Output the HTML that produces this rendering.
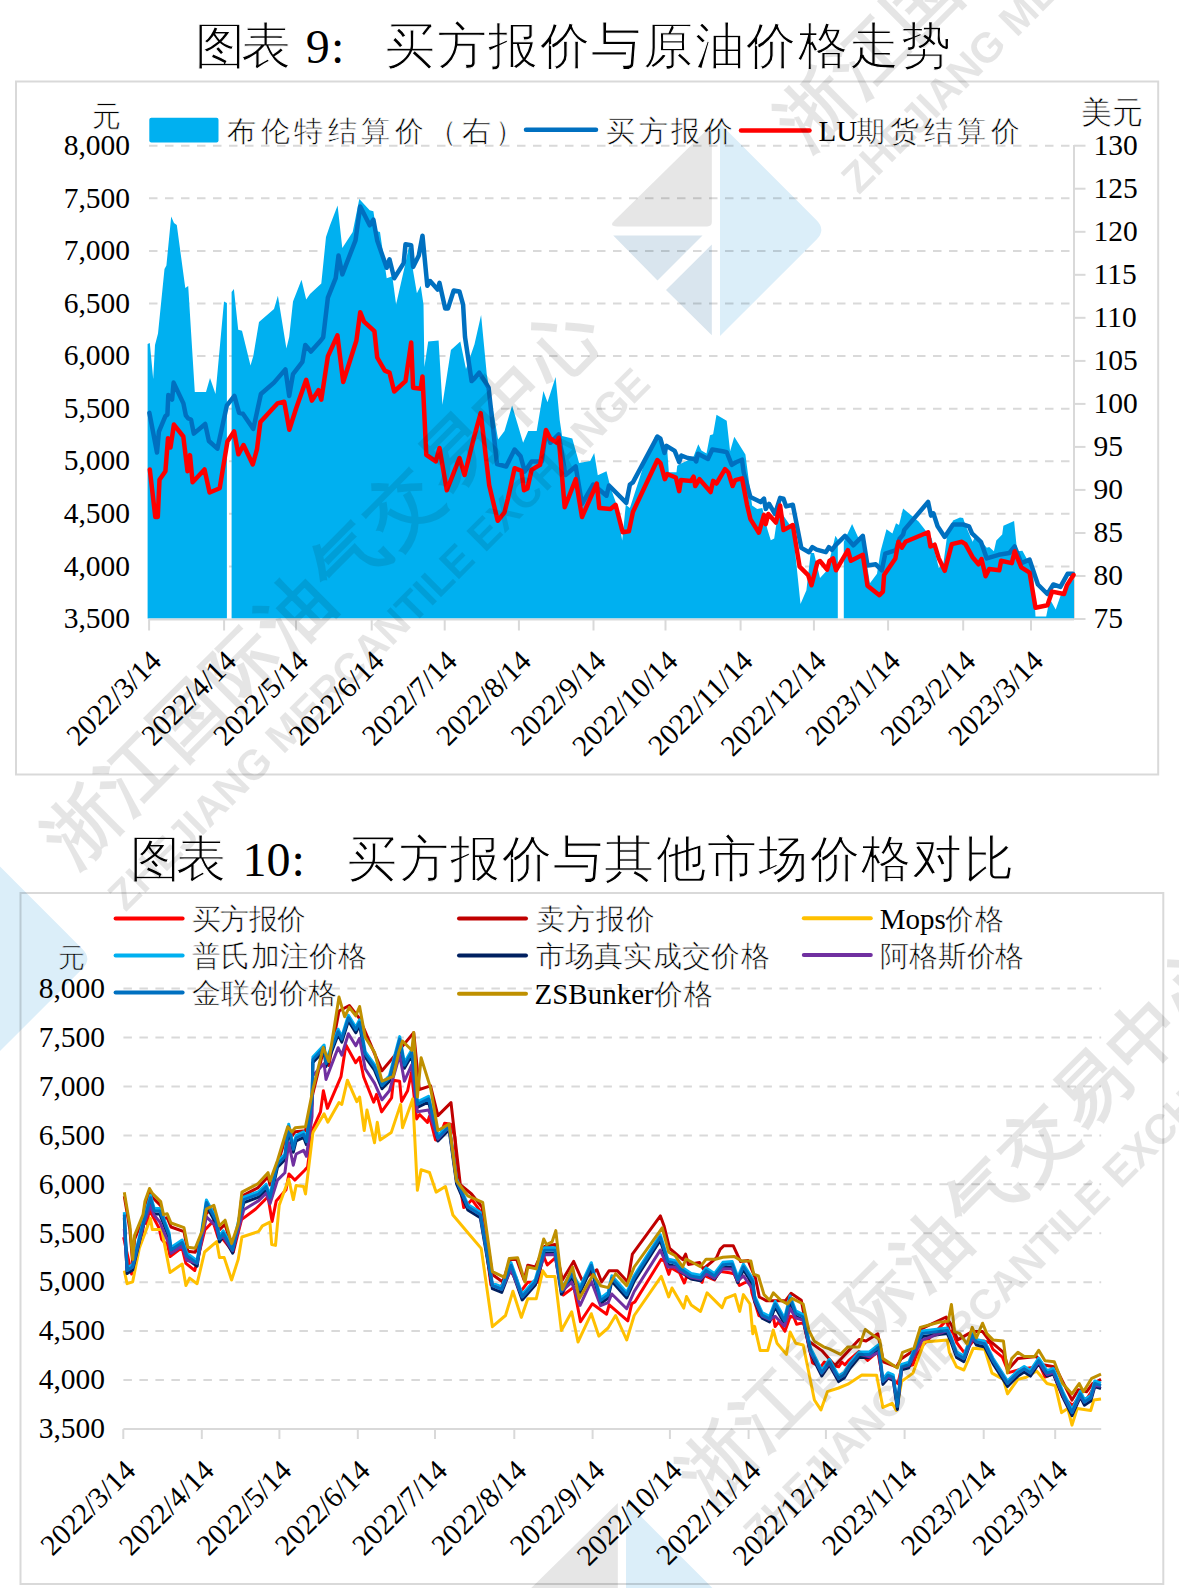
<!DOCTYPE html><html><head><meta charset="utf-8"><style>html,body{margin:0;padding:0;background:#fff;width:1179px;height:1588px;overflow:hidden;position:relative}</style></head><body>
<svg width="1179" height="1588" viewBox="0 0 1179 1588" style="position:absolute;left:0;top:0">
<rect x="16" y="81.5" width="1142.2" height="693" fill="none" stroke="#d9d9d9" stroke-width="2"/>
<rect x="20.5" y="893" width="1142.8" height="691" fill="none" stroke="#d9d9d9" stroke-width="2"/>
<text x="195" y="63" font-family='"Liberation Serif", serif' font-size="50" stroke="#fff" stroke-width="1.1">图</text>
<text x="240.8" y="63" font-family='"Liberation Serif", serif' font-size="50" stroke="#fff" stroke-width="1.1">表</text>
<text x="305.7" y="63" font-family='"Liberation Serif", serif' font-size="48">9</text>
<text x="330.9" y="63" font-family='"Liberation Serif", serif' font-size="48">:</text>
<text x="385.0" y="63" font-family='"Liberation Serif", serif' font-size="50" stroke="#fff" stroke-width="1.1">买</text>
<text x="436.6" y="63" font-family='"Liberation Serif", serif' font-size="50" stroke="#fff" stroke-width="1.1">方</text>
<text x="488.2" y="63" font-family='"Liberation Serif", serif' font-size="50" stroke="#fff" stroke-width="1.1">报</text>
<text x="539.8" y="63" font-family='"Liberation Serif", serif' font-size="50" stroke="#fff" stroke-width="1.1">价</text>
<text x="591.4" y="63" font-family='"Liberation Serif", serif' font-size="50" stroke="#fff" stroke-width="1.1">与</text>
<text x="643.0" y="63" font-family='"Liberation Serif", serif' font-size="50" stroke="#fff" stroke-width="1.1">原</text>
<text x="694.6" y="63" font-family='"Liberation Serif", serif' font-size="50" stroke="#fff" stroke-width="1.1">油</text>
<text x="746.2" y="63" font-family='"Liberation Serif", serif' font-size="50" stroke="#fff" stroke-width="1.1">价</text>
<text x="797.8" y="63" font-family='"Liberation Serif", serif' font-size="50" stroke="#fff" stroke-width="1.1">格</text>
<text x="849.4" y="63" font-family='"Liberation Serif", serif' font-size="50" stroke="#fff" stroke-width="1.1">走</text>
<text x="901.0" y="63" font-family='"Liberation Serif", serif' font-size="50" stroke="#fff" stroke-width="1.1">势</text>
<text x="130.3" y="876" font-family='"Liberation Serif", serif' font-size="50" stroke="#fff" stroke-width="1.1">图</text>
<text x="176.10000000000002" y="876" font-family='"Liberation Serif", serif' font-size="50" stroke="#fff" stroke-width="1.1">表</text>
<text x="242.5" y="876" font-family='"Liberation Serif", serif' font-size="48">10</text>
<text x="291.5" y="876" font-family='"Liberation Serif", serif' font-size="48">:</text>
<text x="347.4" y="876" font-family='"Liberation Serif", serif' font-size="50" stroke="#fff" stroke-width="1.1">买</text>
<text x="398.8" y="876" font-family='"Liberation Serif", serif' font-size="50" stroke="#fff" stroke-width="1.1">方</text>
<text x="450.1" y="876" font-family='"Liberation Serif", serif' font-size="50" stroke="#fff" stroke-width="1.1">报</text>
<text x="501.5" y="876" font-family='"Liberation Serif", serif' font-size="50" stroke="#fff" stroke-width="1.1">价</text>
<text x="552.8" y="876" font-family='"Liberation Serif", serif' font-size="50" stroke="#fff" stroke-width="1.1">与</text>
<text x="604.2" y="876" font-family='"Liberation Serif", serif' font-size="50" stroke="#fff" stroke-width="1.1">其</text>
<text x="655.6" y="876" font-family='"Liberation Serif", serif' font-size="50" stroke="#fff" stroke-width="1.1">他</text>
<text x="706.9" y="876" font-family='"Liberation Serif", serif' font-size="50" stroke="#fff" stroke-width="1.1">市</text>
<text x="758.3" y="876" font-family='"Liberation Serif", serif' font-size="50" stroke="#fff" stroke-width="1.1">场</text>
<text x="809.6" y="876" font-family='"Liberation Serif", serif' font-size="50" stroke="#fff" stroke-width="1.1">价</text>
<text x="861.0" y="876" font-family='"Liberation Serif", serif' font-size="50" stroke="#fff" stroke-width="1.1">格</text>
<text x="912.4" y="876" font-family='"Liberation Serif", serif' font-size="50" stroke="#fff" stroke-width="1.1">对</text>
<text x="963.7" y="876" font-family='"Liberation Serif", serif' font-size="50" stroke="#fff" stroke-width="1.1">比</text>
<line x1="149" y1="145.7" x2="1074" y2="145.7" stroke="#d9d9d9" stroke-width="2" stroke-dasharray="8.5 7.5"/>
<line x1="149" y1="198.3" x2="1074" y2="198.3" stroke="#d9d9d9" stroke-width="2" stroke-dasharray="8.5 7.5"/>
<line x1="149" y1="250.9" x2="1074" y2="250.9" stroke="#d9d9d9" stroke-width="2" stroke-dasharray="8.5 7.5"/>
<line x1="149" y1="303.5" x2="1074" y2="303.5" stroke="#d9d9d9" stroke-width="2" stroke-dasharray="8.5 7.5"/>
<line x1="149" y1="356.1" x2="1074" y2="356.1" stroke="#d9d9d9" stroke-width="2" stroke-dasharray="8.5 7.5"/>
<line x1="149" y1="408.7" x2="1074" y2="408.7" stroke="#d9d9d9" stroke-width="2" stroke-dasharray="8.5 7.5"/>
<line x1="149" y1="461.2" x2="1074" y2="461.2" stroke="#d9d9d9" stroke-width="2" stroke-dasharray="8.5 7.5"/>
<line x1="149" y1="513.8" x2="1074" y2="513.8" stroke="#d9d9d9" stroke-width="2" stroke-dasharray="8.5 7.5"/>
<line x1="149" y1="566.4" x2="1074" y2="566.4" stroke="#d9d9d9" stroke-width="2" stroke-dasharray="8.5 7.5"/>
<text x="130" y="154.9" font-family='"Liberation Serif", serif' font-size="29.5" text-anchor="end">8,000</text>
<text x="130" y="207.5" font-family='"Liberation Serif", serif' font-size="29.5" text-anchor="end">7,500</text>
<text x="130" y="260.1" font-family='"Liberation Serif", serif' font-size="29.5" text-anchor="end">7,000</text>
<text x="130" y="312.7" font-family='"Liberation Serif", serif' font-size="29.5" text-anchor="end">6,500</text>
<text x="130" y="365.3" font-family='"Liberation Serif", serif' font-size="29.5" text-anchor="end">6,000</text>
<text x="130" y="417.9" font-family='"Liberation Serif", serif' font-size="29.5" text-anchor="end">5,500</text>
<text x="130" y="470.4" font-family='"Liberation Serif", serif' font-size="29.5" text-anchor="end">5,000</text>
<text x="130" y="523.0" font-family='"Liberation Serif", serif' font-size="29.5" text-anchor="end">4,500</text>
<text x="130" y="575.6" font-family='"Liberation Serif", serif' font-size="29.5" text-anchor="end">4,000</text>
<text x="130" y="628.2" font-family='"Liberation Serif", serif' font-size="29.5" text-anchor="end">3,500</text>
<text x="1093.5" y="154.9" font-family='"Liberation Serif", serif' font-size="29.5">130</text>
<line x1="1074" y1="145.7" x2="1085.5" y2="145.7" stroke="#d9d9d9" stroke-width="2"/>
<text x="1093.5" y="197.9" font-family='"Liberation Serif", serif' font-size="29.5">125</text>
<line x1="1074" y1="188.7" x2="1085.5" y2="188.7" stroke="#d9d9d9" stroke-width="2"/>
<text x="1093.5" y="241.0" font-family='"Liberation Serif", serif' font-size="29.5">120</text>
<line x1="1074" y1="231.8" x2="1085.5" y2="231.8" stroke="#d9d9d9" stroke-width="2"/>
<text x="1093.5" y="284.0" font-family='"Liberation Serif", serif' font-size="29.5">115</text>
<line x1="1074" y1="274.8" x2="1085.5" y2="274.8" stroke="#d9d9d9" stroke-width="2"/>
<text x="1093.5" y="327.0" font-family='"Liberation Serif", serif' font-size="29.5">110</text>
<line x1="1074" y1="317.8" x2="1085.5" y2="317.8" stroke="#d9d9d9" stroke-width="2"/>
<text x="1093.5" y="370.1" font-family='"Liberation Serif", serif' font-size="29.5">105</text>
<line x1="1074" y1="360.9" x2="1085.5" y2="360.9" stroke="#d9d9d9" stroke-width="2"/>
<text x="1093.5" y="413.1" font-family='"Liberation Serif", serif' font-size="29.5">100</text>
<line x1="1074" y1="403.9" x2="1085.5" y2="403.9" stroke="#d9d9d9" stroke-width="2"/>
<text x="1093.5" y="456.1" font-family='"Liberation Serif", serif' font-size="29.5">95</text>
<line x1="1074" y1="446.9" x2="1085.5" y2="446.9" stroke="#d9d9d9" stroke-width="2"/>
<text x="1093.5" y="499.1" font-family='"Liberation Serif", serif' font-size="29.5">90</text>
<line x1="1074" y1="489.9" x2="1085.5" y2="489.9" stroke="#d9d9d9" stroke-width="2"/>
<text x="1093.5" y="542.2" font-family='"Liberation Serif", serif' font-size="29.5">85</text>
<line x1="1074" y1="533.0" x2="1085.5" y2="533.0" stroke="#d9d9d9" stroke-width="2"/>
<text x="1093.5" y="585.2" font-family='"Liberation Serif", serif' font-size="29.5">80</text>
<line x1="1074" y1="576.0" x2="1085.5" y2="576.0" stroke="#d9d9d9" stroke-width="2"/>
<text x="1093.5" y="628.2" font-family='"Liberation Serif", serif' font-size="29.5">75</text>
<line x1="1074" y1="619.0" x2="1085.5" y2="619.0" stroke="#d9d9d9" stroke-width="2"/>
<line x1="1074" y1="145" x2="1074" y2="620" stroke="#d9d9d9" stroke-width="2"/>
<text x="106" y="126" font-family='"Liberation Serif", serif' font-size="29" stroke="#fff" stroke-width="0.6" text-anchor="middle">元</text>
<text x="1111.5" y="123" font-family='"Liberation Serif", serif' font-size="31" stroke="#fff" stroke-width="0.6" text-anchor="middle">美元</text>
<rect x="149.3" y="117.8" width="69.2" height="24.6" rx="2" fill="#00b0f0"/>
<text x="227" y="141" font-family='"Liberation Serif", serif' font-size="29" stroke="#fff" stroke-width="0.6" textLength="297" lengthAdjust="spacing">布伦特结算价（右）</text>
<line x1="526" y1="129.7" x2="596" y2="129.7" stroke="#0070c0" stroke-width="4.5" stroke-linecap="round"/>
<text x="606" y="141" font-family='"Liberation Serif", serif' font-size="29" stroke="#fff" stroke-width="0.6" textLength="127" lengthAdjust="spacing">买方报价</text>
<line x1="741" y1="130.4" x2="809.5" y2="130.4" stroke="#ff0000" stroke-width="4.5" stroke-linecap="round"/>
<text x="818.5" y="141" font-family='"Liberation Serif", serif' font-size="29">LU</text>
<text x="856" y="141" font-family='"Liberation Serif", serif' font-size="29" stroke="#fff" stroke-width="0.6" textLength="164" lengthAdjust="spacing">期货结算价</text>
<polygon points="147.6,618.5 147.6,344.0 149.8,343.0 153.2,379.0 155.0,345.0 158.0,333.5 164.5,269.0 166.4,265.5 171.2,216.4 174.0,223.0 176.8,225.0 185.3,288.0 188.2,286.0 194.8,392.0 206.0,392.0 210.0,378.0 215.5,394.0 224.0,301.4 226.9,303.0 226.9,618.5" fill="#00b0f0"/>
<polygon points="231.6,618.5 231.6,292.0 233.9,289.0 238.2,329.8 242.0,330.7 250.5,365.6 253.3,356.0 259.0,322.0 274.0,309.0 277.9,295.8 286.4,348.6 289.2,337.0 293.0,301.4 301.5,279.7 306.2,299.5 310.0,293.9 321.3,283.5 326.0,237.0 330.0,225.3 337.6,205.5 342.3,248.0 352.7,232.0 359.3,198.9 369.7,210.2 373.4,211.2 376.3,231.0 380.0,232.0 386.7,278.2 392.3,276.3 396.1,304.6 405.5,263.1 409.3,244.2 413.1,270.7 416.9,293.3 420.7,285.8 423.5,304.6 424.4,367.0 428.2,341.5 438.6,340.5 442.4,404.7 450.9,350.0 460.3,341.5 466.0,368.9 474.5,344.3 481.1,315.0 486.8,374.5 498.1,439.5 504.5,430.9 512.1,405.4 523.1,442.8 528.2,430.9 536.7,430.9 543.4,391.1 547.5,402.3 555.6,376.9 559.7,420.0 562.1,436.0 572.3,438.5 579.1,463.1 590.2,461.0 594.2,452.9 597.8,475.3 606.5,471.2 610.5,487.5 615.6,501.8 622.2,540.5 625.8,504.8 629.9,507.9 645.1,461.0 655.3,435.6 660.4,437.7 667.3,450.4 668.8,472.3 676.5,472.3 677.2,465.7 680.5,463.7 693.0,458.0 698.3,444.3 701.4,450.4 706.5,453.5 710.0,435.2 713.1,434.3 716.5,414.8 726.7,420.7 730.1,451.2 734.3,436.8 745.4,454.6 752.1,505.5 757.2,508.9 762.3,508.1 767.4,529.3 770.8,540.3 774.2,538.6 779.3,503.8 783.5,515.7 792.8,529.3 800.5,603.9 806.4,590.3 810.7,553.0 814.0,553.0 820.0,578.0 827.1,570.3 835.4,535.8 837.8,539.4 837.8,618.5" fill="#00b0f0"/>
<polygon points="843.8,618.5 843.8,541.8 852.1,523.9 858.0,537.0 862.8,540.0 867.5,567.9 869.9,583.3 877.0,573.8 880.6,551.3 886.5,529.3 892.4,533.4 896.0,523.3 899.0,525.1 903.1,508.5 918.6,521.6 931.6,538.2 938.8,567.9 943.5,563.1 947.1,535.8 953.0,520.4 960.0,517.4 963.1,518.0 965.4,525.1 972.6,541.8 976.0,535.0 986.8,547.7 989.2,547.1 993.9,551.3 996.3,540.6 1002.2,534.6 1003.4,525.7 1014.1,521.0 1017.1,551.3 1022.4,550.7 1033.1,570.3 1035.5,616.6 1046.2,616.6 1049.7,598.8 1055.7,609.4 1061.6,592.8 1072.9,579.8 1074.0,579.0 1074.0,618.5" fill="#00b0f0"/>
<polyline points="149.4,412.9 157.0,452.5 158.9,431.7 165.4,416.1 167.4,414.7 168.3,395.0 172.1,399.6 173.6,382.6 183.4,403.4 185.8,415.3 188.2,418.5 191.0,419.5 193.8,433.6 205.2,424.0 208.9,441.0 217.4,448.7 226.9,405.3 234.4,395.9 239.1,412.9 242.9,413.8 253.3,428.9 260.9,394.0 274.0,382.6 285.4,369.4 289.2,395.9 293.0,374.1 302.4,361.9 305.3,344.9 310.9,351.5 320.4,341.0 323.2,337.3 327.9,297.6 335.7,278.2 338.5,255.5 342.3,274.4 355.5,240.4 360.2,206.4 369.7,225.3 373.4,219.7 377.2,240.4 386.7,267.8 389.5,259.3 394.2,278.2 403.7,263.1 405.5,244.2 411.2,245.2 413.1,266.9 418.8,255.5 422.5,235.7 427.3,285.8 430.1,281.0 437.6,289.5 439.5,282.9 445.2,308.4 448.0,308.4 453.7,290.5 459.4,291.4 463.1,304.6 465.0,336.8 471.6,381.1 474.5,378.3 479.2,372.6 484.0,380.0 488.6,387.7 497.0,464.0 506.2,466.5 514.6,449.5 520.6,456.3 524.8,471.6 531.6,461.4 541.8,461.4 546.0,430.9 550.3,442.8 558.7,434.3 565.5,475.0 575.7,466.5 582.0,503.8 593.2,484.5 606.5,495.7 609.0,485.5 626.3,502.8 629.9,484.5 632.9,482.4 657.4,436.6 660.4,438.7 664.5,452.9 666.5,445.8 674.7,450.9 679.2,462.1 681.3,455.5 687.7,458.0 694.5,458.9 696.2,461.4 697.9,453.8 708.0,458.9 712.3,449.5 722.5,451.2 726.7,452.1 731.8,464.8 736.0,462.3 742.0,459.7 743.7,472.5 750.4,497.0 760.6,502.1 764.0,498.7 765.7,508.9 769.1,503.8 775.0,514.0 780.1,497.9 783.5,498.7 786.1,506.4 792.8,504.7 801.3,547.9 809.0,552.2 812.4,547.1 816.6,549.6 825.9,552.2 828.9,547.1 831.9,550.0 835.4,545.3 845.0,535.8 853.3,545.3 862.8,535.8 867.5,565.5 875.8,564.3 881.8,570.3 885.3,553.6 896.0,550.1 899.6,538.8 903.1,534.6 904.3,529.9 928.1,502.0 931.0,515.6 933.4,513.3 937.6,526.3 944.7,537.0 953.0,524.5 963.1,524.5 969.0,526.3 972.0,533.4 980.9,541.8 986.8,558.4 998.7,554.8 1009.4,553.0 1014.7,546.5 1021.3,563.1 1029.6,559.6 1037.9,584.5 1047.4,594.0 1053.3,584.5 1060.4,586.9 1067.6,573.8 1072.9,573.8" fill="none" stroke="#0070c0" stroke-width="4.5" stroke-linejoin="round" stroke-linecap="round"/>
<polyline points="149.8,469.5 155.3,517.0 157.8,517.0 159.5,479.7 165.4,471.2 168.0,438.2 170.5,447.5 173.9,424.6 183.3,436.5 187.5,471.2 190.0,455.1 192.6,482.3 204.5,469.5 209.6,492.5 219.7,488.2 227.4,441.6 234.1,431.4 238.4,454.3 243.5,445.0 252.8,464.5 257.0,449.2 260.4,422.0 277.4,403.4 284.2,401.7 289.3,429.7 296.1,408.5 306.2,379.8 311.9,400.6 318.5,390.2 321.3,399.6 327.9,356.2 337.4,335.4 343.2,382.0 356.4,340.5 360.2,312.2 364.0,321.6 374.4,331.1 377.2,357.5 384.8,370.7 389.5,372.6 394.2,391.5 405.5,381.1 411.2,342.4 413.1,387.7 420.7,388.7 422.5,376.4 426.3,454.8 435.8,461.4 439.5,448.0 446.8,490.3 459.5,458.0 464.6,475.0 473.9,437.7 480.7,413.1 489.2,485.2 497.7,520.8 504.5,512.3 507.9,498.7 514.6,468.2 521.4,470.8 524.0,490.3 527.4,488.6 531.6,469.9 540.1,464.8 546.0,430.0 550.3,438.5 557.0,442.8 558.7,437.7 564.7,507.2 575.7,479.2 582.0,517.0 596.8,483.5 599.3,507.9 610.5,508.9 615.6,504.8 622.7,532.3 628.9,531.3 632.9,512.0 657.4,460.0 660.5,463.1 664.8,479.2 667.3,474.1 675.8,477.5 679.2,491.1 680.9,480.1 691.1,480.9 693.6,476.7 695.3,486.0 699.5,479.2 710.6,492.0 713.1,480.9 716.5,483.5 725.0,469.1 728.4,472.5 732.6,486.0 735.2,480.1 742.0,478.4 747.0,504.7 750.4,519.1 758.9,532.7 764.0,514.9 765.7,524.2 768.3,514.0 775.9,522.5 780.1,505.5 783.5,530.1 792.8,525.0 799.6,566.6 808.1,575.1 811.5,585.3 817.4,562.4 820.0,561.0 827.1,569.7 829.5,560.8 833.1,558.4 836.0,570.3 847.9,550.1 850.9,560.8 862.8,554.8 867.5,585.7 879.4,595.2 882.9,591.6 884.1,575.0 895.4,558.4 898.4,541.8 901.9,547.7 905.5,541.8 928.1,532.3 930.4,546.5 934.6,544.7 938.8,558.4 944.7,570.8 951.8,544.1 961.9,541.8 965.4,544.1 972.6,557.2 978.5,564.3 981.5,559.0 985.6,576.2 989.2,569.1 999.3,570.3 1001.1,560.8 1011.8,563.1 1014.7,551.3 1021.3,567.3 1029.6,572.6 1035.5,607.7 1047.4,605.3 1052.1,591.6 1064.0,594.0 1067.0,585.1 1073.5,575.0" fill="none" stroke="#ff0000" stroke-width="4.5" stroke-linejoin="round" stroke-linecap="round"/>
<line x1="148.5" y1="619.5" x2="1074" y2="619.5" stroke="#d9d9d9" stroke-width="2"/>
<line x1="149.1" y1="619.5" x2="149.1" y2="630.5" stroke="#d9d9d9" stroke-width="2"/>
<text transform="translate(163.0,662.7) rotate(-45)" font-family='"Liberation Serif", serif' font-size="29.5" text-anchor="end">2022/3/14</text>
<line x1="224.1" y1="619.5" x2="224.1" y2="630.5" stroke="#d9d9d9" stroke-width="2"/>
<text transform="translate(238.0,662.7) rotate(-45)" font-family='"Liberation Serif", serif' font-size="29.5" text-anchor="end">2022/4/14</text>
<line x1="296" y1="619.5" x2="296" y2="630.5" stroke="#d9d9d9" stroke-width="2"/>
<text transform="translate(309.9,662.7) rotate(-45)" font-family='"Liberation Serif", serif' font-size="29.5" text-anchor="end">2022/5/14</text>
<line x1="371.7" y1="619.5" x2="371.7" y2="630.5" stroke="#d9d9d9" stroke-width="2"/>
<text transform="translate(385.6,662.7) rotate(-45)" font-family='"Liberation Serif", serif' font-size="29.5" text-anchor="end">2022/6/14</text>
<line x1="444.7" y1="619.5" x2="444.7" y2="630.5" stroke="#d9d9d9" stroke-width="2"/>
<text transform="translate(458.6,662.7) rotate(-45)" font-family='"Liberation Serif", serif' font-size="29.5" text-anchor="end">2022/7/14</text>
<line x1="518.9" y1="619.5" x2="518.9" y2="630.5" stroke="#d9d9d9" stroke-width="2"/>
<text transform="translate(532.8,662.7) rotate(-45)" font-family='"Liberation Serif", serif' font-size="29.5" text-anchor="end">2022/8/14</text>
<line x1="593.5" y1="619.5" x2="593.5" y2="630.5" stroke="#d9d9d9" stroke-width="2"/>
<text transform="translate(607.4,662.7) rotate(-45)" font-family='"Liberation Serif", serif' font-size="29.5" text-anchor="end">2022/9/14</text>
<line x1="665.5" y1="619.5" x2="665.5" y2="630.5" stroke="#d9d9d9" stroke-width="2"/>
<text transform="translate(679.4,662.7) rotate(-45)" font-family='"Liberation Serif", serif' font-size="29.5" text-anchor="end">2022/10/14</text>
<line x1="740.6" y1="619.5" x2="740.6" y2="630.5" stroke="#d9d9d9" stroke-width="2"/>
<text transform="translate(754.5,662.7) rotate(-45)" font-family='"Liberation Serif", serif' font-size="29.5" text-anchor="end">2022/11/14</text>
<line x1="813.9" y1="619.5" x2="813.9" y2="630.5" stroke="#d9d9d9" stroke-width="2"/>
<text transform="translate(827.8,662.7) rotate(-45)" font-family='"Liberation Serif", serif' font-size="29.5" text-anchor="end">2022/12/14</text>
<line x1="888.1" y1="619.5" x2="888.1" y2="630.5" stroke="#d9d9d9" stroke-width="2"/>
<text transform="translate(902.0,662.7) rotate(-45)" font-family='"Liberation Serif", serif' font-size="29.5" text-anchor="end">2023/1/14</text>
<line x1="963.2" y1="619.5" x2="963.2" y2="630.5" stroke="#d9d9d9" stroke-width="2"/>
<text transform="translate(977.1,662.7) rotate(-45)" font-family='"Liberation Serif", serif' font-size="29.5" text-anchor="end">2023/2/14</text>
<line x1="1031" y1="619.5" x2="1031" y2="630.5" stroke="#d9d9d9" stroke-width="2"/>
<text transform="translate(1044.9,662.7) rotate(-45)" font-family='"Liberation Serif", serif' font-size="29.5" text-anchor="end">2023/3/14</text>
<line x1="123.4" y1="988.6" x2="1101.2" y2="988.6" stroke="#d9d9d9" stroke-width="2" stroke-dasharray="8.5 7.5"/>
<line x1="123.4" y1="1037.5" x2="1101.2" y2="1037.5" stroke="#d9d9d9" stroke-width="2" stroke-dasharray="8.5 7.5"/>
<line x1="123.4" y1="1086.5" x2="1101.2" y2="1086.5" stroke="#d9d9d9" stroke-width="2" stroke-dasharray="8.5 7.5"/>
<line x1="123.4" y1="1135.4" x2="1101.2" y2="1135.4" stroke="#d9d9d9" stroke-width="2" stroke-dasharray="8.5 7.5"/>
<line x1="123.4" y1="1184.3" x2="1101.2" y2="1184.3" stroke="#d9d9d9" stroke-width="2" stroke-dasharray="8.5 7.5"/>
<line x1="123.4" y1="1233.2" x2="1101.2" y2="1233.2" stroke="#d9d9d9" stroke-width="2" stroke-dasharray="8.5 7.5"/>
<line x1="123.4" y1="1282.2" x2="1101.2" y2="1282.2" stroke="#d9d9d9" stroke-width="2" stroke-dasharray="8.5 7.5"/>
<line x1="123.4" y1="1331.1" x2="1101.2" y2="1331.1" stroke="#d9d9d9" stroke-width="2" stroke-dasharray="8.5 7.5"/>
<line x1="123.4" y1="1380.0" x2="1101.2" y2="1380.0" stroke="#d9d9d9" stroke-width="2" stroke-dasharray="8.5 7.5"/>
<text x="105" y="997.8" font-family='"Liberation Serif", serif' font-size="29.5" text-anchor="end">8,000</text>
<text x="105" y="1046.7" font-family='"Liberation Serif", serif' font-size="29.5" text-anchor="end">7,500</text>
<text x="105" y="1095.7" font-family='"Liberation Serif", serif' font-size="29.5" text-anchor="end">7,000</text>
<text x="105" y="1144.6" font-family='"Liberation Serif", serif' font-size="29.5" text-anchor="end">6,500</text>
<text x="105" y="1193.5" font-family='"Liberation Serif", serif' font-size="29.5" text-anchor="end">6,000</text>
<text x="105" y="1242.5" font-family='"Liberation Serif", serif' font-size="29.5" text-anchor="end">5,500</text>
<text x="105" y="1291.4" font-family='"Liberation Serif", serif' font-size="29.5" text-anchor="end">5,000</text>
<text x="105" y="1340.3" font-family='"Liberation Serif", serif' font-size="29.5" text-anchor="end">4,500</text>
<text x="105" y="1389.2" font-family='"Liberation Serif", serif' font-size="29.5" text-anchor="end">4,000</text>
<text x="105" y="1438.2" font-family='"Liberation Serif", serif' font-size="29.5" text-anchor="end">3,500</text>
<text x="71.5" y="967" font-family='"Liberation Serif", serif' font-size="27" stroke="#fff" stroke-width="0.6" text-anchor="middle">元</text>
<line x1="123.4" y1="1429.1" x2="1101.2" y2="1429.1" stroke="#d9d9d9" stroke-width="2"/>
<line x1="123.3" y1="1429.1" x2="123.3" y2="1439" stroke="#d9d9d9" stroke-width="2"/>
<text transform="translate(137.2,1472.3) rotate(-45)" font-family='"Liberation Serif", serif' font-size="29.5" text-anchor="end">2022/3/14</text>
<line x1="201.8" y1="1429.1" x2="201.8" y2="1439" stroke="#d9d9d9" stroke-width="2"/>
<text transform="translate(215.7,1472.3) rotate(-45)" font-family='"Liberation Serif", serif' font-size="29.5" text-anchor="end">2022/4/14</text>
<line x1="279.4" y1="1429.1" x2="279.4" y2="1439" stroke="#d9d9d9" stroke-width="2"/>
<text transform="translate(293.3,1472.3) rotate(-45)" font-family='"Liberation Serif", serif' font-size="29.5" text-anchor="end">2022/5/14</text>
<line x1="357.8" y1="1429.1" x2="357.8" y2="1439" stroke="#d9d9d9" stroke-width="2"/>
<text transform="translate(371.7,1472.3) rotate(-45)" font-family='"Liberation Serif", serif' font-size="29.5" text-anchor="end">2022/6/14</text>
<line x1="435.0" y1="1429.1" x2="435.0" y2="1439" stroke="#d9d9d9" stroke-width="2"/>
<text transform="translate(448.9,1472.3) rotate(-45)" font-family='"Liberation Serif", serif' font-size="29.5" text-anchor="end">2022/7/14</text>
<line x1="514.3" y1="1429.1" x2="514.3" y2="1439" stroke="#d9d9d9" stroke-width="2"/>
<text transform="translate(528.2,1472.3) rotate(-45)" font-family='"Liberation Serif", serif' font-size="29.5" text-anchor="end">2022/8/14</text>
<line x1="592.6" y1="1429.1" x2="592.6" y2="1439" stroke="#d9d9d9" stroke-width="2"/>
<text transform="translate(606.5,1472.3) rotate(-45)" font-family='"Liberation Serif", serif' font-size="29.5" text-anchor="end">2022/9/14</text>
<line x1="669.9" y1="1429.1" x2="669.9" y2="1439" stroke="#d9d9d9" stroke-width="2"/>
<text transform="translate(683.8,1472.3) rotate(-45)" font-family='"Liberation Serif", serif' font-size="29.5" text-anchor="end">2022/10/14</text>
<line x1="748.6" y1="1429.1" x2="748.6" y2="1439" stroke="#d9d9d9" stroke-width="2"/>
<text transform="translate(762.5,1472.3) rotate(-45)" font-family='"Liberation Serif", serif' font-size="29.5" text-anchor="end">2022/11/14</text>
<line x1="825.9" y1="1429.1" x2="825.9" y2="1439" stroke="#d9d9d9" stroke-width="2"/>
<text transform="translate(839.8,1472.3) rotate(-45)" font-family='"Liberation Serif", serif' font-size="29.5" text-anchor="end">2022/12/14</text>
<line x1="904.6" y1="1429.1" x2="904.6" y2="1439" stroke="#d9d9d9" stroke-width="2"/>
<text transform="translate(918.5,1472.3) rotate(-45)" font-family='"Liberation Serif", serif' font-size="29.5" text-anchor="end">2023/1/14</text>
<line x1="983.7" y1="1429.1" x2="983.7" y2="1439" stroke="#d9d9d9" stroke-width="2"/>
<text transform="translate(997.6,1472.3) rotate(-45)" font-family='"Liberation Serif", serif' font-size="29.5" text-anchor="end">2023/2/14</text>
<line x1="1055.2" y1="1429.1" x2="1055.2" y2="1439" stroke="#d9d9d9" stroke-width="2"/>
<text transform="translate(1069.1,1472.3) rotate(-45)" font-family='"Liberation Serif", serif' font-size="29.5" text-anchor="end">2023/3/14</text>
<line x1="115.6" y1="918.4" x2="182.6" y2="918.4" stroke="#ff0000" stroke-width="4" stroke-linecap="round"/>
<text x="192.1" y="928.9" font-family='"Liberation Serif", serif' font-size="29" stroke="#fff" stroke-width="0.6" textLength="114" lengthAdjust="spacing">买方报价</text>
<line x1="459" y1="918.4" x2="526" y2="918.4" stroke="#c00000" stroke-width="4" stroke-linecap="round"/>
<text x="535.5" y="928.9" font-family='"Liberation Serif", serif' font-size="29" stroke="#fff" stroke-width="0.6" textLength="119" lengthAdjust="spacing">卖方报价</text>
<line x1="803.8" y1="918.2" x2="870.8" y2="918.2" stroke="#ffc000" stroke-width="4" stroke-linecap="round"/>
<text x="879.8" y="928.7" font-family='"Liberation Serif", serif' font-size="29">Mops</text>
<text x="944.8" y="928.7" font-family='"Liberation Serif", serif' font-size="29" stroke="#fff" stroke-width="0.6" textLength="59" lengthAdjust="spacing">价格</text>
<line x1="115.6" y1="955.5" x2="182.6" y2="955.5" stroke="#00b0f0" stroke-width="4" stroke-linecap="round"/>
<text x="192.1" y="966.0" font-family='"Liberation Serif", serif' font-size="29" stroke="#fff" stroke-width="0.6" textLength="175" lengthAdjust="spacing">普氏加注价格</text>
<line x1="459" y1="955.5" x2="526" y2="955.5" stroke="#002060" stroke-width="4" stroke-linecap="round"/>
<text x="535.5" y="966.0" font-family='"Liberation Serif", serif' font-size="29" stroke="#fff" stroke-width="0.6" textLength="234" lengthAdjust="spacing">市场真实成交价格</text>
<line x1="803.8" y1="955" x2="870.8" y2="955" stroke="#7030a0" stroke-width="4" stroke-linecap="round"/>
<text x="880.3" y="965.5" font-family='"Liberation Serif", serif' font-size="29" stroke="#fff" stroke-width="0.6" textLength="144" lengthAdjust="spacing">阿格斯价格</text>
<line x1="115.6" y1="992.5" x2="182.6" y2="992.5" stroke="#0070c0" stroke-width="4" stroke-linecap="round"/>
<text x="192.1" y="1003.0" font-family='"Liberation Serif", serif' font-size="29" stroke="#fff" stroke-width="0.6" textLength="145" lengthAdjust="spacing">金联创价格</text>
<line x1="459" y1="993.7" x2="526" y2="993.7" stroke="#bf9000" stroke-width="4" stroke-linecap="round"/>
<text x="534.5" y="1004.2" font-family='"Liberation Serif", serif' font-size="29">ZSBunker</text>
<text x="653.5" y="1004.2" font-family='"Liberation Serif", serif' font-size="29" stroke="#fff" stroke-width="0.6" textLength="59" lengthAdjust="spacing">价格</text>
<polyline points="123.6,1237.2 131.6,1274.0 133.6,1254.7 140.4,1240.2 142.5,1238.9 143.4,1220.5 147.4,1224.8 148.9,1209.0 159.2,1228.4 161.7,1239.4 164.2,1242.4 167.2,1243.3 170.1,1256.5 182.0,1247.5 185.9,1263.3 194.8,1270.5 204.8,1230.1 212.9,1221.4 218.0,1237.2 222.1,1238.0 233.3,1252.1 241.5,1219.6 255.7,1209.0 268.0,1196.7 272.1,1221.4 276.2,1201.1 286.0,1189.8 289.0,1173.9 294.8,1180.1 304.7,1170.3 307.6,1166.9 312.4,1129.9 320.5,1111.9 323.4,1090.8 327.4,1108.3 341.0,1076.7 345.9,1045.1 355.7,1062.7 359.6,1057.4 363.6,1076.7 373.7,1102.2 376.6,1094.3 381.6,1111.9 391.6,1097.8 393.5,1080.2 399.6,1081.2 401.6,1101.4 407.6,1090.8 411.5,1072.3 416.6,1118.9 419.6,1114.5 427.5,1122.4 429.5,1116.3 435.5,1140.0 438.5,1140.0 444.6,1123.3 450.7,1124.2 454.7,1136.4 456.7,1166.4 463.7,1207.6 466.8,1205.0 471.9,1199.7 477.0,1206.6 481.9,1213.8 490.9,1284.7 500.7,1287.1 509.7,1271.3 516.1,1277.6 520.5,1291.8 527.6,1282.3 538.3,1282.3 542.7,1254.0 547.3,1265.0 556.1,1257.1 563.2,1295.0 573.9,1287.1 580.5,1321.8 592.3,1303.8 606.6,1314.2 609.2,1304.8 627.8,1320.8 631.7,1303.8 634.9,1301.9 661.2,1259.3 664.4,1261.2 668.8,1274.4 670.9,1267.8 679.5,1272.6 684.3,1283.0 686.5,1276.8 693.2,1279.2 700.3,1280.0 702.1,1282.3 703.9,1275.3 714.4,1280.0 718.9,1271.3 729.6,1272.8 734.0,1273.7 739.4,1285.5 743.8,1283.2 750.1,1280.7 751.9,1292.7 758.9,1315.5 769.7,1320.2 773.3,1317.0 775.1,1326.5 778.7,1321.8 784.9,1331.3 790.3,1316.3 793.8,1317.0 796.6,1324.2 803.6,1322.6 812.6,1362.8 820.7,1366.8 824.3,1362.1 828.8,1364.4 838.6,1366.8 841.8,1362.1 845.0,1364.8 848.7,1360.4 858.9,1351.6 867.7,1360.4 877.8,1351.6 882.8,1379.2 891.6,1378.1 897.9,1383.6 901.6,1368.1 912.9,1364.9 916.7,1354.3 920.4,1350.4 921.7,1346.1 946.7,1320.1 949.8,1332.8 952.3,1330.6 956.7,1342.7 964.2,1352.7 973.0,1341.0 983.6,1341.0 989.8,1342.7 993.0,1349.3 1002.4,1357.1 1008.6,1372.6 1021.1,1369.2 1032.4,1367.6 1038.0,1361.5 1045.0,1377.0 1053.7,1373.7 1062.6,1396.9 1072.7,1405.7 1079.1,1396.9 1086.7,1399.1 1094.4,1386.9 1100.0,1386.9" fill="none" stroke="#ff0000" stroke-width="3.0" stroke-linejoin="round"/>
<polyline points="124.3,1196.2 129.9,1229.8 132.7,1263.4 134.6,1239.2 143.0,1218.6 144.9,1205.6 149.5,1192.5 152.3,1197.2 160.7,1205.6 163.5,1218.6 167.2,1217.7 171.0,1227.0 184.0,1231.7 187.8,1251.3 195.2,1252.2 202.7,1233.6 206.4,1213.0 213.9,1209.3 219.5,1229.8 225.1,1224.2 231.6,1247.6 238.2,1228.0 241.9,1196.2 257.7,1187.9 268.0,1176.7 270.0,1185.0 277.5,1164.4 287.7,1130.8 292.0,1136.0 295.2,1131.7 305.5,1130.8 312.9,1093.5 323.2,1051.5 328.8,1065.5 339.0,1011.0 349.3,1005.5 359.6,1018.6 382.0,1070.8 391.3,1059.6 413.7,1032.6 419.3,1089.5 430.5,1085.8 437.9,1115.6 451.0,1102.6 460.3,1184.7 471.5,1194.0 482.1,1207.3 492.4,1274.5 502.7,1282.0 510.1,1259.6 516.7,1259.6 524.1,1280.1 527.8,1265.2 535.3,1267.0 544.6,1246.5 554.9,1244.6 562.4,1280.1 573.6,1261.4 582.0,1280.1 596.9,1269.8 601.6,1282.0 609.0,1270.8 617.4,1270.8 627.7,1282.1 632.4,1254.1 660.4,1215.9 664.1,1226.1 669.7,1248.5 682.8,1259.7 685.6,1254.1 688.4,1264.4 699.6,1262.5 703.3,1269.0 716.4,1257.8 720.1,1249.4 723.8,1245.7 733.2,1245.7 740.6,1261.6 748.1,1260.6 755.5,1278.4 759.3,1297.0 766.7,1300.8 785.4,1300.8 791.0,1293.3 801.3,1300.2 808.8,1341.3 821.8,1350.6 834.9,1365.5 859.1,1339.4 866.0,1341.0 877.8,1333.8 883.4,1361.8 896.4,1366.9 901.0,1359.0 914.0,1350.3 922.3,1328.4 946.2,1317.0 951.4,1325.0 957.7,1339.9 972.2,1331.6 982.6,1331.6 988.8,1339.9 1003.4,1352.3 1008.6,1369.0 1017.9,1358.6 1036.6,1356.5 1042.9,1364.8 1055.3,1366.9 1065.7,1387.7 1072.0,1400.1 1078.2,1389.8 1086.5,1391.8 1092.7,1383.5 1101.0,1379.4" fill="none" stroke="#c00000" stroke-width="3.0" stroke-linejoin="round"/>
<polyline points="124.3,1270.6 127.1,1283.7 132.7,1281.8 139.3,1248.2 150.5,1218.4 152.3,1229.6 161.7,1229.6 170.0,1272.5 182.2,1264.1 185.9,1285.5 189.6,1278.1 197.1,1283.7 204.6,1252.0 216.7,1241.7 219.5,1257.6 224.2,1257.6 231.6,1280.0 238.2,1259.4 241.9,1237.0 258.7,1231.4 262.4,1225.8 269.9,1222.1 271.7,1244.5 275.5,1245.4 279.2,1205.3 288.7,1179.0 293.3,1199.6 296.1,1185.6 303.6,1186.5 305.5,1194.0 312.9,1132.4 324.1,1113.8 327.8,1122.2 339.0,1102.6 341.8,1104.4 347.4,1080.2 356.8,1101.6 359.6,1097.0 364.2,1130.5 367.0,1110.0 374.5,1142.7 377.3,1122.2 380.1,1139.9 391.3,1132.4 400.6,1104.4 402.5,1127.7 412.8,1098.8 417.4,1190.3 421.1,1169.7 429.5,1172.5 436.1,1192.1 445.4,1186.5 452.9,1215.0 470.0,1235.3 481.2,1248.4 492.4,1326.7 505.5,1315.5 512.9,1291.3 521.3,1317.4 527.8,1298.8 536.2,1298.8 542.8,1270.8 546.5,1276.4 554.9,1276.4 561.4,1330.5 571.7,1311.8 578.0,1342.0 591.3,1313.7 598.8,1336.1 608.0,1328.0 615.6,1315.5 626.7,1340.0 634.2,1315.5 661.3,1276.4 668.7,1296.9 672.0,1288.0 683.7,1308.1 686.5,1296.5 691.2,1304.9 700.5,1311.4 707.1,1292.8 716.4,1302.1 722.0,1307.7 725.7,1298.4 735.0,1294.6 739.7,1311.4 743.4,1294.6 750.0,1304.0 752.8,1333.8 754.6,1326.4 760.2,1350.6 767.7,1350.6 773.3,1330.1 777.0,1343.2 786.4,1354.4 790.1,1332.0 795.7,1343.2 803.2,1345.0 814.4,1400.0 820.9,1409.9 827.4,1391.7 838.6,1388.0 847.9,1384.2 861.9,1374.9 876.6,1375.2 882.9,1407.4 892.2,1403.3 896.4,1410.5 901.6,1381.4 913.0,1373.1 918.2,1358.6 924.4,1342.0 947.3,1339.9 949.4,1352.3 956.6,1366.9 963.9,1370.0 973.3,1348.2 984.7,1349.2 992.0,1373.1 1003.4,1379.4 1007.5,1393.9 1017.9,1379.4 1026.2,1377.3 1036.6,1371.0 1047.0,1383.5 1055.3,1385.6 1061.6,1412.6 1067.8,1408.5 1072.0,1425.1 1077.2,1408.5 1090.7,1410.5 1093.8,1400.1 1101.0,1399.1" fill="none" stroke="#ffc000" stroke-width="3.0" stroke-linejoin="round"/>
<polyline points="124.3,1212.1 127.1,1268.1 132.7,1264.4 143.0,1221.5 150.5,1195.3 154.2,1208.4 159.8,1208.4 169.1,1232.7 171.0,1247.6 182.2,1240.1 186.8,1253.2 197.1,1260.7 206.4,1200.0 215.8,1217.7 219.5,1236.4 223.2,1230.8 232.6,1247.6 243.8,1197.2 258.7,1191.6 266.1,1184.2 270.0,1195.2 277.5,1161.6 284.9,1154.2 288.7,1124.3 293.3,1146.7 296.1,1135.5 303.6,1131.8 306.4,1139.2 312.0,1098.2 312.9,1057.1 324.1,1045.0 326.0,1060.9 338.1,1029.2 341.8,1036.6 348.4,1015.2 355.8,1027.3 359.6,1019.8 365.2,1051.5 374.5,1064.6 382.0,1083.3 389.4,1075.8 399.7,1036.6 404.4,1062.7 411.8,1049.7 417.4,1101.9 428.6,1096.3 437.9,1135.5 449.1,1124.3 456.6,1178.5 467.8,1204.5 480.3,1212.3 492.4,1283.2 501.7,1286.9 511.0,1262.7 522.2,1294.4 535.3,1279.5 544.6,1247.7 554.9,1247.7 561.4,1288.8 571.7,1272.0 580.1,1286.9 591.3,1262.7 600.6,1298.1 608.1,1292.5 611.8,1275.7 626.7,1292.5 634.2,1275.7 660.3,1234.7 667.8,1258.9 675.3,1260.8 680.0,1266.0 691.2,1273.5 700.5,1275.3 706.1,1267.9 714.5,1273.5 722.9,1262.3 732.2,1261.4 737.8,1277.2 743.4,1264.2 752.8,1279.1 754.6,1295.9 762.1,1312.7 769.6,1316.4 775.2,1301.5 784.5,1318.3 790.1,1295.9 795.7,1310.8 803.2,1314.5 810.6,1348.1 821.8,1370.5 829.3,1359.3 838.6,1376.1 844.2,1372.4 849.8,1363.0 859.1,1351.9 869.4,1351.9 878.7,1344.6 882.9,1378.9 888.0,1372.7 893.2,1374.8 897.4,1403.9 901.6,1364.4 908.8,1362.3 917.1,1341.5 922.3,1331.1 947.3,1328.0 951.4,1337.4 956.6,1351.9 963.9,1356.1 972.2,1332.2 976.4,1339.5 984.7,1341.5 993.0,1358.2 1007.5,1381.0 1017.9,1370.6 1024.2,1366.5 1030.4,1370.6 1038.7,1358.2 1047.0,1370.6 1053.3,1368.5 1063.7,1393.5 1072.0,1410.1 1080.3,1391.4 1084.4,1399.7 1090.7,1395.6 1094.8,1381.0 1101.0,1383.1" fill="none" stroke="#00b0f0" stroke-width="3.0" stroke-linejoin="round"/>
<polyline points="124.3,1217.6 127.1,1273.6 132.7,1269.9 143.0,1227.0 150.5,1200.8 154.2,1213.9 159.8,1213.9 169.1,1238.2 171.0,1253.1 182.2,1245.6 186.8,1258.7 197.1,1266.2 206.4,1205.5 215.8,1223.2 219.5,1241.9 223.2,1236.3 232.6,1253.1 243.8,1202.7 258.7,1197.1 266.1,1189.7 270.0,1200.7 277.5,1167.1 284.9,1159.7 288.7,1129.8 293.3,1152.2 296.1,1141.0 303.6,1137.3 306.4,1144.7 312.0,1103.7 312.9,1062.6 324.1,1050.5 326.0,1066.4 338.1,1034.7 341.8,1042.1 348.4,1020.7 355.8,1032.8 359.6,1025.3 365.2,1057.0 374.5,1070.1 382.0,1088.8 389.4,1081.3 399.7,1042.1 404.4,1068.2 411.8,1055.2 417.4,1107.4 428.6,1101.8 437.9,1141.0 449.1,1129.8 456.6,1184.0 467.8,1210.0 480.3,1217.8 492.4,1288.7 501.7,1292.4 511.0,1268.2 522.2,1299.9 535.3,1285.0 544.6,1253.2 554.9,1253.2 561.4,1294.3 571.7,1277.5 580.1,1292.4 591.3,1268.2 600.6,1303.6 608.1,1298.0 611.8,1281.2 626.7,1298.0 634.2,1281.2 660.3,1240.2 667.8,1264.4 675.3,1266.3 680.0,1271.5 691.2,1279.0 700.5,1280.8 706.1,1273.4 714.5,1279.0 722.9,1267.8 732.2,1266.9 737.8,1282.7 743.4,1269.7 752.8,1284.6 754.6,1301.4 762.1,1318.2 769.6,1321.9 775.2,1307.0 784.5,1323.8 790.1,1301.4 795.7,1316.3 803.2,1320.0 810.6,1353.6 821.8,1376.0 829.3,1364.8 838.6,1381.6 844.2,1377.9 849.8,1368.5 859.1,1357.4 869.4,1357.4 878.7,1350.1 882.9,1384.4 888.0,1378.2 893.2,1380.3 897.4,1409.4 901.6,1369.9 908.8,1367.8 917.1,1347.0 922.3,1336.6 947.3,1333.5 951.4,1342.9 956.6,1357.4 963.9,1361.6 972.2,1337.7 976.4,1345.0 984.7,1347.0 993.0,1363.7 1007.5,1386.5 1017.9,1376.1 1024.2,1372.0 1030.4,1376.1 1038.7,1363.7 1047.0,1376.1 1053.3,1374.0 1063.7,1399.0 1072.0,1415.6 1080.3,1396.9 1084.4,1405.2 1090.7,1401.1 1094.8,1386.5 1101.0,1388.6" fill="none" stroke="#002060" stroke-width="3.0" stroke-linejoin="round"/>
<polyline points="124.3,1228.8 127.1,1270.6 132.7,1266.9 143.0,1226.3 150.5,1205.6 154.2,1215.3 159.8,1222.0 169.1,1244.5 171.0,1253.2 182.2,1245.7 186.8,1260.3 197.1,1263.2 206.4,1216.8 215.8,1225.8 219.5,1238.9 223.2,1236.7 232.6,1250.7 243.8,1209.7 258.7,1200.6 266.1,1193.2 270.0,1203.9 277.5,1180.1 284.9,1172.7 288.7,1142.8 293.3,1165.2 296.1,1154.0 303.6,1150.3 306.4,1156.3 312.0,1116.7 312.9,1075.6 324.1,1063.5 326.0,1079.4 338.1,1047.7 341.8,1055.1 348.4,1033.7 355.8,1045.8 359.6,1038.3 365.2,1068.7 374.5,1083.1 382.0,1099.8 389.4,1090.8 399.7,1055.1 404.4,1081.2 411.8,1064.7 417.4,1111.7 428.6,1109.9 437.9,1139.1 449.1,1126.8 456.6,1181.0 467.8,1207.0 480.3,1214.8 492.4,1285.7 501.7,1289.4 511.0,1269.2 522.2,1296.9 535.3,1282.2 544.6,1254.8 554.9,1254.6 561.4,1291.3 571.7,1282.3 580.1,1305.4 591.3,1281.2 600.6,1305.7 608.1,1302.6 611.8,1294.0 626.7,1308.7 634.2,1291.5 660.3,1250.1 667.8,1266.9 675.3,1267.1 680.0,1271.3 691.2,1277.4 700.5,1279.2 706.1,1273.6 714.5,1278.1 722.9,1268.7 732.2,1269.1 737.8,1281.0 743.4,1275.9 752.8,1289.3 754.6,1300.1 762.1,1316.1 769.6,1319.6 775.2,1316.3 784.5,1326.2 790.1,1308.5 795.7,1318.0 803.2,1320.1 810.6,1352.4 821.8,1373.0 829.3,1363.3 838.6,1378.6 844.2,1374.9 849.8,1365.5 859.1,1354.4 869.4,1356.9 878.7,1352.4 882.9,1381.4 888.0,1377.0 893.2,1378.5 897.4,1406.4 901.6,1367.6 908.8,1365.5 917.1,1349.5 922.3,1340.1 947.3,1330.5 951.4,1339.9 956.6,1354.4 963.9,1358.6 972.2,1338.7 976.4,1342.0 984.7,1344.0 993.0,1360.7 1007.5,1383.5 1017.9,1373.1 1024.2,1369.0 1030.4,1373.1 1038.7,1362.0 1047.0,1374.8 1053.3,1372.6 1063.7,1397.0 1072.0,1412.6 1080.3,1395.7 1084.4,1402.2 1090.7,1398.1 1094.8,1385.4 1101.0,1386.3" fill="none" stroke="#7030a0" stroke-width="3.0" stroke-linejoin="round"/>
<polyline points="124.3,1214.6 127.1,1270.6 132.7,1266.9 143.0,1224.0 150.5,1197.8 154.2,1210.9 159.8,1210.9 169.1,1235.2 171.0,1250.1 182.2,1242.6 186.8,1255.7 197.1,1263.2 206.4,1202.5 215.8,1220.2 219.5,1238.9 223.2,1233.3 232.6,1250.1 243.8,1199.7 258.7,1194.1 266.1,1186.7 270.0,1197.7 277.5,1164.1 284.9,1156.7 288.7,1126.8 293.3,1149.2 296.1,1138.0 303.6,1134.3 306.4,1141.7 312.0,1100.7 312.9,1059.6 324.1,1047.5 326.0,1063.4 338.1,1031.7 341.8,1039.1 348.4,1017.7 355.8,1029.8 359.6,1022.3 365.2,1054.0 374.5,1067.1 382.0,1085.8 389.4,1078.3 399.7,1039.1 404.4,1065.2 411.8,1052.2 417.4,1104.4 428.6,1098.8 437.9,1138.0 449.1,1126.8 456.6,1181.0 467.8,1207.0 480.3,1214.8 492.4,1285.7 501.7,1289.4 511.0,1265.2 522.2,1296.9 535.3,1282.0 544.6,1250.2 554.9,1250.2 561.4,1291.3 571.7,1274.5 580.1,1289.4 591.3,1265.2 600.6,1300.6 608.1,1295.0 611.8,1278.2 626.7,1295.0 634.2,1278.2 660.3,1237.2 667.8,1261.4 675.3,1263.3 680.0,1268.5 691.2,1276.0 700.5,1277.8 706.1,1270.4 714.5,1276.0 722.9,1264.8 732.2,1263.9 737.8,1279.7 743.4,1266.7 752.8,1281.6 754.6,1298.4 762.1,1315.2 769.6,1318.9 775.2,1304.0 784.5,1320.8 790.1,1298.4 795.7,1313.3 803.2,1317.0 810.6,1350.6 821.8,1373.0 829.3,1361.8 838.6,1378.6 844.2,1374.9 849.8,1365.5 859.1,1354.4 869.4,1354.4 878.7,1347.1 882.9,1381.4 888.0,1375.2 893.2,1377.3 897.4,1406.4 901.6,1366.9 908.8,1364.8 917.1,1344.0 922.3,1333.6 947.3,1330.5 951.4,1339.9 956.6,1354.4 963.9,1358.6 972.2,1334.7 976.4,1342.0 984.7,1344.0 993.0,1360.7 1007.5,1383.5 1017.9,1373.1 1024.2,1369.0 1030.4,1373.1 1038.7,1360.7 1047.0,1373.1 1053.3,1371.0 1063.7,1396.0 1072.0,1412.6 1080.3,1393.9 1084.4,1402.2 1090.7,1398.1 1094.8,1383.5 1101.0,1385.6" fill="none" stroke="#0070c0" stroke-width="3.0" stroke-linejoin="round"/>
<polyline points="124.3,1192.2 129.9,1225.8 132.7,1259.4 134.6,1235.2 143.0,1214.6 144.9,1201.6 149.5,1188.5 152.3,1193.2 160.7,1201.6 163.5,1214.6 167.2,1213.7 171.0,1223.0 184.0,1227.7 187.8,1247.3 195.2,1248.2 202.7,1229.6 206.4,1209.0 213.9,1205.3 219.5,1225.8 225.1,1220.2 231.6,1243.6 238.2,1224.0 241.9,1192.2 257.7,1183.9 268.0,1172.7 270.0,1181.0 277.5,1160.4 287.7,1126.8 292.0,1132.0 295.2,1127.7 305.5,1126.8 312.9,1089.5 323.2,1047.5 328.8,1061.5 339.0,997.1 344.6,1016.7 349.3,1007.4 355.8,1015.8 359.6,1006.5 365.2,1037.2 374.5,1052.2 382.0,1081.1 393.2,1076.4 398.8,1052.2 402.5,1041.0 411.8,1050.3 413.7,1032.6 417.4,1097.0 421.1,1057.8 430.5,1087.6 437.9,1130.5 449.1,1124.0 456.6,1181.0 467.8,1195.9 482.7,1202.4 492.4,1271.7 504.5,1277.3 509.2,1258.6 517.6,1257.7 525.0,1282.0 527.8,1267.0 536.2,1268.9 543.7,1239.0 546.5,1244.6 552.1,1241.8 555.8,1230.6 562.4,1289.4 572.6,1267.0 579.2,1298.8 593.2,1274.5 600.6,1285.7 608.1,1287.6 615.6,1273.6 626.7,1285.7 634.2,1267.0 662.2,1227.8 668.7,1252.1 675.3,1255.8 682.7,1267.0 686.0,1259.0 700.5,1266.7 706.1,1259.2 715.5,1259.2 722.9,1257.3 734.1,1256.4 741.6,1261.0 750.9,1261.0 753.7,1274.1 758.4,1276.0 764.0,1294.6 769.6,1300.2 773.3,1292.8 780.8,1300.2 787.3,1304.0 792.0,1298.4 803.2,1304.0 808.8,1330.1 814.4,1341.3 823.7,1346.9 829.3,1348.8 840.5,1354.4 847.9,1346.9 859.1,1346.9 865.2,1329.5 879.7,1339.9 882.9,1358.6 897.4,1367.9 902.6,1352.3 914.0,1348.2 920.3,1327.4 939.0,1322.2 948.3,1321.2 951.4,1304.5 954.6,1331.6 959.8,1333.6 967.0,1344.0 972.2,1327.4 976.4,1337.8 982.6,1323.2 986.8,1333.6 993.0,1339.9 1003.4,1340.9 1007.5,1373.1 1011.7,1358.6 1017.9,1352.3 1024.2,1356.5 1034.6,1356.5 1038.7,1350.3 1045.0,1360.7 1054.3,1361.7 1062.6,1383.5 1072.0,1393.9 1079.2,1383.5 1083.4,1391.8 1091.7,1378.3 1101.0,1374.2" fill="none" stroke="#bf9000" stroke-width="3.0" stroke-linejoin="round"/>
<g style="mix-blend-mode:multiply">
<g transform="translate(0.0,0.0)"><path d="M711.8,124.9 L711.8,222 Q711.8,226.4 707.4,226.4 L617,226.4 Q608.5,226.4 614.5,220.5 Z" fill="#e6e6e6"/><path d="M720,123.5 L816.4,219.9 Q826.3,229.8 816.4,239.7 L720,336 Z" fill="#dbeef9"/><path d="M613.2,235.6 L702.5,235.6 L657.5,280.5 Z" fill="#d9e5ee"/><path d="M711.8,244.4 L711.8,335.3 L666,290 Z" fill="#d9e5ee"/></g>
<g transform="translate(-734.0,729.0)"><path d="M711.8,124.9 L711.8,222 Q711.8,226.4 707.4,226.4 L617,226.4 Q608.5,226.4 614.5,220.5 Z" fill="#e6e6e6"/><path d="M720,123.5 L816.4,219.9 Q826.3,229.8 816.4,239.7 L720,336 Z" fill="#dbeef9"/><path d="M613.2,235.6 L702.5,235.6 L657.5,280.5 Z" fill="#d9e5ee"/><path d="M711.8,244.4 L711.8,335.3 L666,290 Z" fill="#d9e5ee"/></g>
<g transform="translate(-94.0,1378.0)"><path d="M711.8,124.9 L711.8,222 Q711.8,226.4 707.4,226.4 L617,226.4 Q608.5,226.4 614.5,220.5 Z" fill="#e6e6e6"/><path d="M720,123.5 L816.4,219.9 Q826.3,229.8 816.4,239.7 L720,336 Z" fill="#dbeef9"/><path d="M613.2,235.6 L702.5,235.6 L657.5,280.5 Z" fill="#d9e5ee"/><path d="M711.8,244.4 L711.8,335.3 L666,290 Z" fill="#d9e5ee"/></g>
<text transform="translate(80.6,826.7) rotate(-45)" font-family='"Liberation Sans", sans-serif' font-size="72" font-weight="bold" fill="#000" fill-opacity="0.1" dominant-baseline="central" textLength="752" lengthAdjust="spacing" x="-35">浙江国际油气交易中心</text><text transform="translate(125.6,912.7) rotate(-45)" font-family='"Liberation Sans", sans-serif' font-size="42" font-weight="bold" fill="#000" fill-opacity="0.1" x="0" textLength="745" lengthAdjust="spacing">ZHEJIANG MERCANTILE EXCHANGE</text>
<text transform="translate(814.0,109.6) rotate(-45)" font-family='"Liberation Sans", sans-serif' font-size="72" font-weight="bold" fill="#000" fill-opacity="0.1" dominant-baseline="central" textLength="752" lengthAdjust="spacing" x="-35">浙江国际油气交易中心</text><text transform="translate(859.0,195.6) rotate(-45)" font-family='"Liberation Sans", sans-serif' font-size="42" font-weight="bold" fill="#000" fill-opacity="0.1" x="0" textLength="745" lengthAdjust="spacing">ZHEJIANG MERCANTILE EXCHANGE</text>
<text transform="translate(716.0,1463.0) rotate(-45)" font-family='"Liberation Sans", sans-serif' font-size="72" font-weight="bold" fill="#000" fill-opacity="0.1" dominant-baseline="central" textLength="752" lengthAdjust="spacing" x="-35">浙江国际油气交易中心</text><text transform="translate(761.0,1549.0) rotate(-45)" font-family='"Liberation Sans", sans-serif' font-size="42" font-weight="bold" fill="#000" fill-opacity="0.1" x="0" textLength="745" lengthAdjust="spacing">ZHEJIANG MERCANTILE EXCHANGE</text>
</g>
</svg>
</body></html>
